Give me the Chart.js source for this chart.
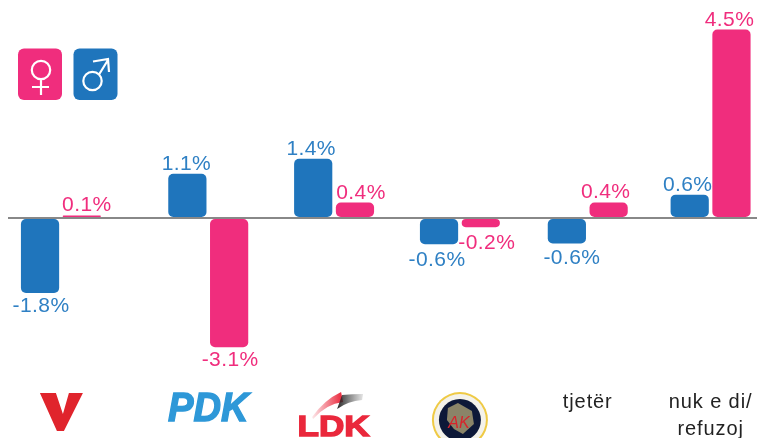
<!DOCTYPE html>
<html><head><meta charset="utf-8">
<style>html,body{margin:0;padding:0;background:#fff}#w{width:757px;height:438px;position:relative}</style>
<script src="https://cdn.jsdelivr.net/npm/chart.js@4/dist/chart.umd.min.js"></script>
</head><body><div id="w"><canvas id="c"></canvas></div>
<script>
const categories = ['V','PDK','LDK','AK','tjetër',['nuk e di/','refuzoj']];
const maleValues = [-1.8,1.06,1.42,-0.63,-0.61,0.56];
const femaleValues = [0.06,-3.1,0.37,-0.22,0.37,4.52];

const BLUE='#1f75bc', PINK='#f02d7d', FONT='"Liberation Sans", Arial, sans-serif';
const groupPx=[-9.5,13,14,15,18,16];
const labelNudge={0:[[1,-1],[-1,1],[-2,1],[-2,2],[5,1],[-2,1]],1:[[5,1],[1,-1],[6,1],[6,2],[-3,0],[-2,1]]};
const logoCats=4;

class PlacedCategory extends Chart.CategoryScale{
  getPixelForValue(v,i){const p=super.getPixelForValue(v,i);return p+(groupPx[Math.round(v)]||0);}
}
PlacedCategory.id='placed';PlacedCategory.defaults=Chart.CategoryScale.defaults;
Chart.register(PlacedCategory);

const valueLabels={id:'valueLabels',afterDatasetsDraw(ch){
  const x=ch.ctx;x.save();x.font='21px '+FONT;x.letterSpacing='0.4px';x.textAlign='center';x.textBaseline='alphabetic';
  ch.data.datasets.forEach((d,di)=>{ch.getDatasetMeta(di).data.forEach((b,i)=>{
    const v=d.data[i],n=labelNudge[di][i];
    x.fillStyle=di===0?'#2f80c4':PINK;
    x.fillText(v.toFixed(1)+'%',b.x+n[0],(v<0?b.y+19.5:b.y-5)+n[1]);
  });});x.restore();
}};
const tickSpacing={id:'tickSpacing',beforeDraw(ch){ch.ctx.letterSpacing='0.9px';},afterDraw(ch){ch.ctx.letterSpacing='0px';}};

function rr(x,l,t,w,h,r,c){x.fillStyle=c;x.beginPath();x.roundRect(l,t,w,h,r);x.fill();}
const decor={id:'decor',afterDraw(ch){
  const x=ch.ctx,s=ch.scales.x;x.save();x.letterSpacing='0px';
  rr(x,18,48.5,44,51.5,6,PINK);rr(x,73.5,48.5,44,51.5,6,BLUE);
  x.strokeStyle='#fff';x.lineWidth=2.2;x.lineCap='butt';
  x.beginPath();x.arc(41,70,9.2,0,7);x.moveTo(41,79);x.lineTo(41,95);x.moveTo(32,87);x.lineTo(49,87);x.stroke();
  x.beginPath();x.arc(92.5,81,9.2,0,7);x.moveTo(99,74.5);x.lineTo(108,60);x.moveTo(93,61.5);x.lineTo(108,59);x.lineTo(109,72);x.stroke();
  // V
  const c0=s.getPixelForValue(0);
  x.fillStyle='#e0242c';x.beginPath();
  x.moveTo(c0-21,393);x.lineTo(c0-5,393);x.lineTo(c0+2,414);x.lineTo(c0+8,393);x.lineTo(c0+22,393);x.lineTo(c0+3,431);x.lineTo(c0-4,431);x.closePath();x.fill();
  // PDK
  const c1=s.getPixelForValue(1);
  x.save();x.translate(c1,421);x.scale(0.93,1);x.font='italic bold 41px '+FONT;x.textAlign='center';x.fillStyle='#2e98d8';x.strokeStyle='#2e98d8';x.lineWidth=1.4;x.fillText(categories[1],0,0);x.strokeText(categories[1],0,0);x.restore();
  // LDK
  const c2=s.getPixelForValue(2);
  x.save();x.translate(c2-0.5,436);x.scale(1.17,1);x.font='bold 30px '+FONT;x.textAlign='center';x.fillStyle='#ea283c';x.strokeStyle='#ea283c';x.lineWidth=1.4;x.fillText(categories[2],0,0);x.strokeText(categories[2],0,0);x.restore();
  let g=x.createLinearGradient(c2-22,0,c2+8,0);g.addColorStop(0,'rgba(234,40,60,0.1)');g.addColorStop(1,'#ea283c');
  x.fillStyle=g;x.beginPath();x.moveTo(c2-22,417);x.quadraticCurveTo(c2-10,400,c2+7,392);x.lineTo(c2+9,402);x.quadraticCurveTo(c2-8,404,c2-21,419);x.closePath();x.fill();
  g=x.createLinearGradient(c2+2,0,c2+30,0);g.addColorStop(0,'#222');g.addColorStop(1,'rgba(60,60,60,0.1)');
  x.fillStyle=g;x.beginPath();x.moveTo(c2+8,395);x.quadraticCurveTo(c2+18,394,c2+29,394);x.lineTo(c2+28,400);x.quadraticCurveTo(c2+14,401,c2+3,409);x.closePath();x.fill();
  // AK seal
  const c3=s.getPixelForValue(3),cy=420;
  x.fillStyle='#efca45';x.beginPath();x.arc(c3,cy,28,0,7);x.fill();
  x.fillStyle='#f4f2ea';x.beginPath();x.arc(c3,cy,26,0,7);x.fill();
  x.fillStyle='#0d1838';x.beginPath();x.arc(c3,cy,21,0,7);x.fill();
  x.fillStyle='#8a8468';x.beginPath();x.moveTo(c3-12,408);x.lineTo(c3-2,403);x.lineTo(c3+12,411);x.lineTo(c3+14,424);x.lineTo(c3+3,434);x.lineTo(c3-6,429);x.lineTo(c3-13,420);x.closePath();x.fill();
  x.fillStyle='#d8242c';x.font='italic 16px '+FONT;x.textAlign='center';x.fillText(categories[3],c3-1,428);
  x.restore();
}};

new Chart(document.getElementById('c'),{
  type:'bar',
  data:{labels:categories,datasets:[
    {label:'male',data:maleValues,backgroundColor:BLUE},
    {label:'female',data:femaleValues,backgroundColor:PINK}
  ]},
  options:{
    responsive:true,maintainAspectRatio:false,animation:false,
    layout:{padding:{left:8,right:0,top:0,bottom:0}},
    plugins:{legend:{display:false},tooltip:{enabled:false}},
    datasets:{bar:{categoryPercentage:0.68,barPercentage:0.915,borderRadius:5,borderSkipped:false}},
    scales:{
      x:{type:'placed',grid:{display:false},border:{display:false},
         afterFit(s){s.height=50;},
         ticks:{autoSkip:false,maxRotation:0,minRotation:0,padding:-7,color:'#222',
                font:{family:FONT,size:20,lineHeight:1.35},
                callback(v,i){return i<logoCats?'':categories[i];}}},
      y:{display:true,min:-4.077,max:5.228,border:{display:false},
         afterFit(s){s.width=0;},
         afterBuildTicks(s){s.ticks=[{value:0}];},
         ticks:{display:false},
         grid:{drawTicks:false,lineWidth:2,color:'#888',z:1}}
    }
  },
  plugins:[tickSpacing,valueLabels,decor]
});
</script></body></html>
